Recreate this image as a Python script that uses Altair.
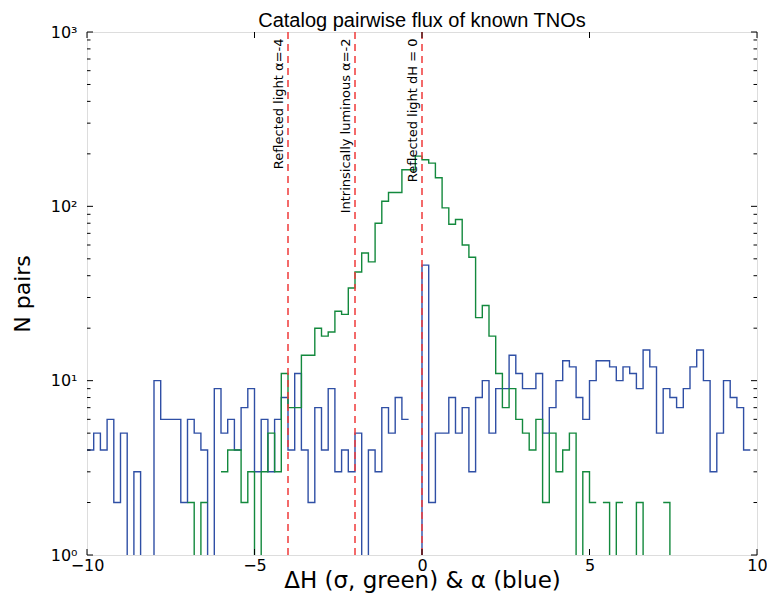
import altair as alt
import pandas as pd

# ---------------- data ----------------
X_MIN, X_MAX = -10.0, 10.0
BIN_WIDTH = 0.2

# blue: alpha histogram, 100 bins of 0.2 from -10 (None = no data drawn)
blue_counts = [
    4, 5, 4, 6, 2, 5, 0, 3, 0, 0,
    10, 6, 6, 6, 2, 6, 5, 4, 0, 9,
    5, 6, 4, 7, 9, 3, 6, 3, 6, 8,
    4, 11, 4, 2, 7, 4, 9, 3, 4, 3,
    5, 0, 4, 3, 7, 5, 8, 6, None, 0,
    46, 2, 5, 5, 8, 5, 7, 3, 8, 10,
    5, 9, 9, 14, 11, 9, 9, 11, 5, 7,
    10, 13, 12, 8, 6, 10, 13, 13, 12, 10,
    12, 11, 9, 15, 12, 5, 9, 8, 7, 9,
    12, 15, 10, 3, 5, 10, 8, 7, 4, None,
]

# green: delta-H histogram, same bins
green_counts = [
    None, None, None, None, None, None, None, None, None, None,
    None, None, None, None, None, 2, 0, 2, None, None,
    3, 4, 4, 2, 3, 0, 3, 5, 3, 11,
    7, 7, 14, 14, 20, 18, 19, 25, 24, 34,
    42, 54, 48, 80, 107, 120, 120, 162, 162, 194,
    185, 177, 146, 98, 79, 84, 60, 51, 23, 27,
    18, 11, 7, 9, 6, 5, 4, 6, 2, 5,
    3, 4, 5, 0, 3, 2, None, 2, 0, 2,
    None, 0, 2, 0, None, None, 2, 0, None, None,
    None, None, None, None, None, None, None, None, None, None,
]

line_positions = [-4, -2, 0]
line_labels = ["Reflected light \u03b1=-4", "Intrinsically luminous \u03b1=-2", "Reflected light dH = 0"]

x_major = [-10, -5, 0, 5, 10]
y_major = [1, 10, 100, 1000]
y_minor = [2, 3, 4, 5, 6, 7, 8, 9, 20, 30, 40, 50, 60, 70, 80, 90,
           200, 300, 400, 500, 600, 700, 800, 900]

TITLE = "Catalog pairwise flux of known TNOs"
X_TITLE = "\u0394H (\u03c3, green) & \u03b1 (blue)"
Y_TITLE = "N pairs"

BLUE = "#2f4fa5"
GREEN = "#13893d"
RED = "#f03a3a"

W, H = 670, 523


def step_runs(counts, name):
    """Split a histogram into runs of drawn bins; each run gets a closing point at its right edge."""
    rows = []
    seg = 0
    open_run = False
    for i, c in enumerate(counts):
        left = round(X_MIN + i * BIN_WIDTH, 4)
        if c is None:
            if open_run:
                rows.append({"x": left, "n": counts[i - 1], "seg": f"{name}{seg}"})
                seg += 1
                open_run = False
            continue
        rows.append({"x": left, "n": c, "seg": f"{name}{seg}"})
        open_run = True
    if open_run:
        rows.append({"x": round(X_MIN + len(counts) * BIN_WIDTH, 4), "n": counts[-1], "seg": f"{name}{seg}"})
    return pd.DataFrame(rows)


blue_df = step_runs(blue_counts, "b")
green_df = step_runs(green_counts, "g")
lines_df = pd.DataFrame({"x": line_positions, "label": line_labels})
xtick_df = pd.DataFrame({"x": x_major})
ymaj_df = pd.DataFrame({"yplot": y_major})
ymin_df = pd.DataFrame({"yplot": y_minor})

x_enc = alt.X(
    "x:Q",
    scale=alt.Scale(domain=[X_MIN, X_MAX], nice=False, zero=False),
    axis=alt.Axis(values=x_major, format="d", title=X_TITLE, ticks=False, domain=False, grid=False,
                  labelFont="DejaVu Sans", labelFontSize=16, labelPadding=2, labelColor="black",
                  labelFlush=False, labelOverlap=False,
                  titleFont="DejaVu Sans", titleFontSize=23, titleFontWeight="normal",
                  titleY=32.5, titleBaseline="alphabetic", titleColor="black"),
)
y_enc = alt.Y(
    "yplot:Q",
    scale=alt.Scale(type="log", domain=[1, 1000], nice=False),
    axis=alt.Axis(values=y_major, ticks=False, domain=False, grid=False,
                  labelExpr="datum.value < 5 ? '10\u2070' : datum.value < 50 ? '10\u00b9' : datum.value < 500 ? '10\u00b2' : '10\u00b3'",
                  labelFont="DejaVu Sans", labelFontSize=16, labelPadding=10, labelColor="black",
                  labelFlush=False, labelOverlap=False,
                  title=Y_TITLE, titleFont="DejaVu Sans", titleFontSize=22, titleFontWeight="normal",
                  titleX=-65, titleBaseline="middle", titleColor="black"),
)

blue_line = alt.Chart(blue_df).transform_calculate(yplot="max(datum.n, 0.3)").mark_line(
    interpolate="step-after", clip=True, color=BLUE, strokeWidth=1.4
).encode(x=x_enc, y=y_enc, detail="seg:N", order="x:Q")

green_line = alt.Chart(green_df).transform_calculate(yplot="max(datum.n, 0.3)").mark_line(
    interpolate="step-after", clip=True, color=GREEN, strokeWidth=1.4
).encode(x=x_enc, y=y_enc, detail="seg:N", order="x:Q")

red_lines = alt.Chart(lines_df).mark_rule(color=RED, strokeWidth=1.5, strokeDash=[7, 5]).encode(x=x_enc)

labels = alt.Chart(lines_df).mark_text(
    angle=270, align="right", baseline="bottom", font="DejaVu Sans", fontSize=13, color="black", dy=-2
).encode(x=x_enc, y=alt.value(6.5), text="label:N")

# inward ticks on all four sides
left_major = alt.Chart(ymaj_df).mark_rule(color="black", strokeWidth=1).encode(y=y_enc, x=alt.value(0), x2=alt.value(6))
left_minor = alt.Chart(ymin_df).mark_rule(color="black", strokeWidth=1).encode(y=y_enc, x=alt.value(0), x2=alt.value(3.5))
right_major = alt.Chart(ymaj_df).mark_rule(color="black", strokeWidth=1).encode(y=y_enc, x=alt.value(W - 6), x2=alt.value(W))
right_minor = alt.Chart(ymin_df).mark_rule(color="black", strokeWidth=1).encode(y=y_enc, x=alt.value(W - 3.5), x2=alt.value(W))
bottom_major = alt.Chart(xtick_df).mark_rule(color="black", strokeWidth=1).encode(x=x_enc, y=alt.value(H - 6), y2=alt.value(H))
top_major = alt.Chart(xtick_df).mark_rule(color="black", strokeWidth=1).encode(x=x_enc, y=alt.value(0), y2=alt.value(6))

chart = alt.layer(
    blue_line, green_line, red_lines, labels,
    left_major, left_minor, right_major, right_minor, bottom_major, top_major,
).properties(
    width=W, height=H,
    title=alt.TitleParams(TITLE, font="Liberation Sans", fontSize=20, fontWeight="normal",
                          color="black", anchor="middle", offset=0, dy=7),
    autosize=alt.AutoSizeParams(type="none"),
    padding={"left": 79, "top": 24, "right": 10, "bottom": 39},
).configure_view(
    stroke="black", strokeWidth=1
).configure(background="white")

chart.save("out.html", embed_options={"renderer": "svg", "actions": False})
